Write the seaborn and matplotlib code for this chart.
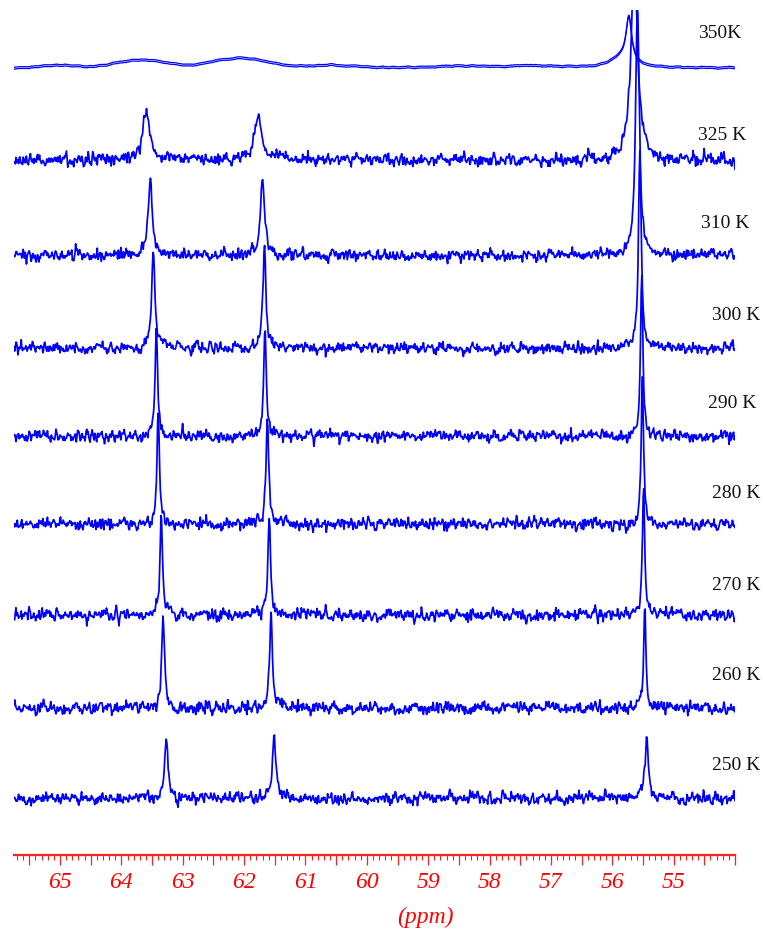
import numpy as np
import pandas as pd
import matplotlib
matplotlib.use("Agg")
import matplotlib.pyplot as plt
from matplotlib.ticker import MultipleLocator, FuncFormatter
import seaborn as sns

# ---- spectra data (13C chemical shifts in ppm, intensities in arbitrary units) ----
temperatures = ["250 K", "260 K", "270 K", "280 K", "290 K", "300 K", "310 K", "325 K"]
peak1_ppm = [63.27, 63.32, 63.35, 63.40, 63.43, 63.48, 63.53, 63.60]
peak2_ppm = [61.51, 61.56, 61.59, 61.62, 61.66, 61.67, 61.70, 61.77]
peak3_ppm = [55.44, 55.47, 55.49, 55.51, 55.52, 55.55, 55.59, 55.64]
peak1_height = [58, 95, 100, 110, 105, 100, 75, 47]
peak2_height = [62, 99, 100, 110, 105, 100, 75, 44]
peak3_height = [60, 100, 125, 150, 165, 200, 250, 200]
half_width = [0.035, 0.025, 0.025, 0.025, 0.025, 0.03, 0.04, 0.07]
noise_level = [4.2, 4.2, 4.2, 4.2, 3.9, 3.9, 4.2, 4.2]

# high-temperature spectrum: one exchange-averaged line plus slow baseline humps
hot_label = "350K"
hot_peak_ppm = [55.73, 55.86]
hot_peak_height = [45, 10]
hot_peak_width = [0.055, 0.22]
hot_hump_ppm = [65.05, 63.65, 62.45, 61.95, 60.6, 58.5, 57.3]
hot_hump_height = [3.0, 8.0, 4.0, 9.0, 2.5, 2.0, 2.0]
hot_hump_width = [0.25, 0.45, 0.25, 0.35, 0.5, 0.4, 0.4]

# ---- layout ----
W, H = 763, 930
baselines = [57, 147, 240, 331, 419, 507, 600, 695]
hot_baseline = 787
label_px = [(712, 765), (712, 675), (712, 585), (712, 494), (708, 404),
            (712, 315), (701, 224), (698, 135)]
hot_label_px = (698, 33)

ppm = np.linspace(65.75, 54.0, 1100)
rng = np.random.default_rng(7)


def lorentz(x, x0, h, w):
    return h / (1.0 + ((x - x0) / w) ** 2)


def gauss(x, x0, h, w):
    return h * np.exp(-0.5 * ((x - x0) / w) ** 2)


frames = []
for i, t in enumerate(temperatures):
    y = (lorentz(ppm, peak1_ppm[i], peak1_height[i], half_width[i])
         + lorentz(ppm, peak2_ppm[i], peak2_height[i], half_width[i])
         + lorentz(ppm, peak3_ppm[i], peak3_height[i], half_width[i] * 0.9))
    baseline_noise = np.convolve(rng.normal(0, noise_level[i], ppm.size),
                                 [0.15, 0.7, 0.15], mode="same")
    frames.append(pd.DataFrame({"ppm": ppm, "y": y + baseline_noise + baselines[i],
                                "trace": t}))

hot = np.zeros_like(ppm)
for p, h, w in zip(hot_peak_ppm, hot_peak_height, hot_peak_width):
    hot += lorentz(ppm, p, h, w)
for p, h, w in zip(hot_hump_ppm, hot_hump_height, hot_hump_width):
    hot += gauss(ppm, p, h, w)
small = np.convolve(rng.normal(0, 0.8, ppm.size), np.ones(9) / 9, mode="same")
frames.append(pd.DataFrame({"ppm": ppm, "y": hot + small + hot_baseline + 0.9,
                            "trace": "350a"}))
frames.append(pd.DataFrame({"ppm": ppm, "y": hot + small + hot_baseline - 0.9,
                            "trace": "350b"}))
df = pd.concat(frames, ignore_index=True)

# ---- drawing ----
sns.set_style("white")
plt.rcParams["font.family"] = ["Liberation Serif", "DejaVu Serif"]

fig = plt.figure(figsize=(W / 100, H / 100), dpi=100)
ax = fig.add_axes([14 / W, 75 / H, 721 / W, 845 / H])

spectra = df[~df["trace"].str.startswith("350")]
hot_df = df[df["trace"].str.startswith("350")]
sns.lineplot(data=spectra, x="ppm", y="y", hue="trace",
             palette=["#0000ff"] * spectra["trace"].nunique(),
             estimator=None, sort=False, legend=False, lw=1.25, ax=ax)
sns.lineplot(data=hot_df, x="ppm", y="y", hue="trace",
             palette=["#0000ff"] * hot_df["trace"].nunique(),
             estimator=None, sort=False, legend=False, lw=0.9, ax=ax)

ax.set_xlim(65.75, 54.0)
ax.set_ylim(0, 845)
ax.set_xlabel("")
ax.set_ylabel("")
for side in ("left", "right", "top"):
    ax.spines[side].set_visible(False)
ax.spines["bottom"].set_color("#ff2020")
ax.spines["bottom"].set_linewidth(1.6)
ax.set_yticks([])

ax.xaxis.set_major_locator(MultipleLocator(0.5))
ax.xaxis.set_minor_locator(MultipleLocator(0.1))
ax.xaxis.set_major_formatter(
    FuncFormatter(lambda v, _: f"{v:.0f}"
                  if abs(v - round(v)) < 1e-6 and 54.5 < v < 65.5 else ""))
ax.tick_params(axis="x", which="major", direction="out", length=7, width=0.9,
               color="#ff2020", labelcolor="#ff0000", labelsize=17, pad=5, bottom=True)
ax.tick_params(axis="x", which="minor", direction="out", length=3.5, width=0.8,
               color="#ff2020", bottom=True)
for lab in ax.get_xticklabels():
    lab.set_fontstyle("italic")

fig.text(425 / W, 1 - 917 / H, "(ppm)", color="#ff0000", fontsize=17,
         fontstyle="italic", ha="center", va="center")

for t, (px, py) in zip(temperatures, label_px):
    fig.text(px / W, 1 - py / H, t, fontsize=14, ha="left", va="center", color="#111111")
fig.text(hot_label_px[0] / W, 1 - hot_label_px[1] / H, hot_label, fontsize=14,
         ha="left", va="center", color="#111111")

fig.savefig("out.png", dpi=100)
